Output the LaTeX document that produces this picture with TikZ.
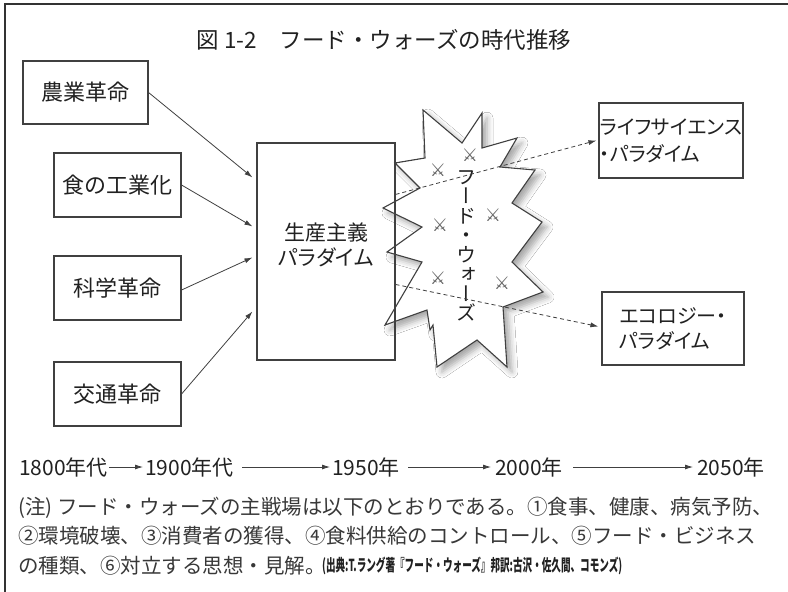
\documentclass[tikz,border=0pt]{standalone}
\usepackage{fontspec}
\setmainfont{Noto Sans CJK JP}
\newfontfamily\cjkp[RawFeature=+palt]{Noto Sans CJK JP}
\newfontfamily\cjkv[RawFeature=+vert]{Noto Sans CJK JP}
\newfontfamily\symf{DejaVu Sans}
\usetikzlibrary{arrows.meta,shadows.blur,calc}
\definecolor{txt}{gray}{0.13}
\definecolor{notec}{gray}{0.22}
\definecolor{linec}{gray}{0.25}
\definecolor{framec}{gray}{0.2}
\definecolor{swordc}{gray}{0.4}
\tikzset{
  box/.style={draw=linec, line width=1.1pt, inner sep=0pt, text=txt,
    font=\fontsize{22}{26}\selectfont},
  arr/.style={-{Latex[length=8pt,width=5pt]}, line width=0.8pt, draw=linec},
  darr/.style={arr, dash pattern=on 4pt off 3pt},
  tl/.style={inner sep=0pt, anchor=west, text=txt, font=\fontsize{21}{24}\selectfont},
  sword/.style={inner sep=0pt, text=swordc, font=\symf\fontsize{18}{18}\selectfont},
}
\begin{document}
\begin{tikzpicture}[x=1pt,y=-1pt]
\useasboundingbox (0,0) rectangle (788,592);
\fill[white] (0,0) rectangle (788,592);
% frame
\draw[line width=2.2pt, framec] (788,4) -- (5,4) -- (5,592);
% title
\node[inner sep=0pt, text=txt, font=\fontsize{22.5}{26}\selectfont] (title) at (384,40) {図 1-2　フード・ウォーズの時代推移};
% starburst
\path[fill=white, draw=linec, line width=1.1pt,
  blur shadow={shadow xshift=5pt, shadow yshift=-5pt, shadow blur radius=6pt, shadow opacity=35}]
 (423,110) -- (462,143) -- (482,113) -- (482,148) -- (517,138) -- (500,167) -- (535,170)
 -- (512,203) -- (542,222) -- (512,262) -- (543,292) -- (503,307) -- (507,367) -- (477,340)
 -- (437,367) -- (433,325) -- (430,330) -- (427,310) -- (385,325) -- (422,262) -- (387,252)
 -- (422,227) -- (383,208) -- (420,188) -- (395,163) -- (425,158) -- cycle;
\node[sword] (s1) at (470,155) {⚔};
\node[sword] (s2) at (438,170) {⚔};
\node[sword] (s3) at (493,215) {⚔};
\node[sword] (s4) at (440,225) {⚔};
\node[sword] (s5) at (438,278) {⚔};
\node[sword] (s6) at (502,283) {⚔};
\node[inner sep=0pt, align=center, text=txt, font=\cjkv\fontsize{20}{19.5}\selectfont] (ww) at (466,246)
 {フ\\ー\\ド\\・\\ウ\\ォ\\ー\\ズ};
% left boxes
\node[box, minimum width=125pt, minimum height=63pt] (a1) at (85.5,92.5) {農業革命};
\node[box, minimum width=127pt, minimum height=64pt] (a2) at (117.5,185) {食の工業化};
\node[box, minimum width=127pt, minimum height=64pt] (a3) at (117.5,288) {科学革命};
\node[box, minimum width=127pt, minimum height=64pt] (a4) at (117.5,394) {交通革命};
% central box
\node[box, minimum width=138pt, minimum height=217pt] (p) at (326,251.5) {};
\node[inner sep=0pt, align=center, text=txt, font=\fontsize{21}{25}\selectfont] (pt) at (326,244.5)
 {生産主義\\{\cjkp パラダイム}};
% right boxes
\node[box, minimum width=144pt, minimum height=75pt, align=left,
  font=\cjkp\fontsize{20}{27}\selectfont] (r1) at (671,140.5) {ライフサイエンス\\・パラダイム};
\node[box, minimum width=142pt, minimum height=73pt, align=left,
  font=\cjkp\fontsize{20}{25}\selectfont] (r2) at (673,328.5) {エコロジー・\\パラダイム};
% arrows into central box
\coordinate (p1) at ($(p.north west)+(-4,35)$);
\coordinate (p2) at ($(p.north west)+(-4,84)$);
\coordinate (p3) at ($(p.north west)+(-4,115)$);
\coordinate (p4) at ($(p.north west)+(-4,169)$);
\draw[arr] (a1.east) -- (p1);
\draw[arr] (a2.east) -- (p2);
\draw[arr] ($(a3.east)+(0,2)$) -- (p3);
\draw[arr] (a4.east) -- (p4);
% dashed arrows
\coordinate (q1) at ($(p.north east)+(0,52)$);
\coordinate (q2) at ($(p.north east)+(0,142)$);
\draw[darr] (q1) -- ($(r1.west)+(-2,0)$);
\draw[darr] (q2) -- ($(r2.west)+(-3,-2)$);
% timeline
\node[tl] (t1) at (19,467) {1800年代};
\node[tl] (t2) at (145,467) {1900年代};
\node[tl] (t3) at (332,467) {1950年};
\node[tl] (t4) at (495,467) {2000年};
\node[tl] (t5) at (697,467) {2050年};
\draw[arr] ($(t1.east)+(1,0)$) -- ($(t2.west)+(-2,0)$);
\draw[arr] ($(t2.east)+(8,0)$) -- ($(t3.west)+(-2,0)$);
\draw[arr] ($(t3.east)+(8,0)$) -- ($(t4.west)+(-4,0)$);
\draw[arr] ($(t4.east)+(10,0)$) -- ($(t5.west)+(-4,0)$);
% note
\node[inner sep=0pt, anchor=west, align=left, text=notec, font=\fontsize{20.5}{29.5}\selectfont] (note) at (18,536)
 {(注) フード・ウォーズの主戦場は以下のとおりである。①食事、健康、病気予防、\\
  ②環境破壊、③消費者の獲得、④食料供給のコントロール、⑤フード・ビジネス\\
  の種類、⑥対立する思想・見解。};
\node[inner sep=0pt, anchor=west, text=txt] (src) at (322,566)
 {\resizebox{300pt}{14.5pt}{\bfseries (出典:T.ラング著『フード・ウォーズ』邦訳:古沢・佐久間、コモンズ)}};
\end{tikzpicture}
\end{document}
